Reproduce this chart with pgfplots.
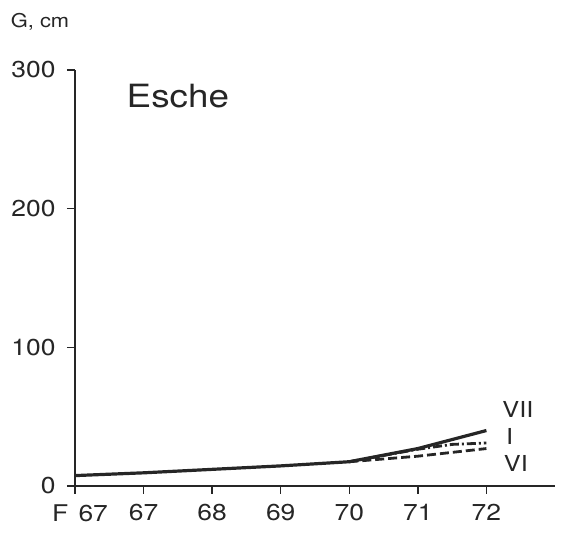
\documentclass[border=0pt]{standalone}
\usepackage{fontspec}
\setmainfont[FakeStretch=1.15]{TeX Gyre Heros}
\usepackage{pgfplots}
\pgfplotsset{compat=1.18}
\definecolor{ink}{HTML}{262626}
\begin{document}
\begin{tikzpicture}[x=1pt,y=1pt]
\path[use as bounding box] (-75,-48) rectangle (490,486);
\begin{axis}[
  at={(0,0)}, anchor=south west,
  scale only axis, width=480pt, height=416pt,
  xmin=0, xmax=7, ymin=0, ymax=300,
  axis lines*=left,
  axis line style={ink, line width=1.5pt},
  every tick/.style={ink, line width=1.5pt},
  tick align=outside, major tick length=8pt,
  xtick={0,1,2,3,4,5,6},
  xticklabels={\hspace*{10pt}F\hspace{0.45em}67,67,68,69,70,71,72},
  ytick={0,100,200,300},
  /pgf/number format/assume math mode=true,
  tick label style={font=\fontsize{23}{26}\selectfont, text=ink},
  xticklabel style={yshift=-7pt},
  yticklabel style={xshift=-8pt},
  clip=false,
]
\addplot[ink, line width=3.2pt] coordinates {(0,7.5)(1,9.5)(2,12)(3,14.5)(4,17.5)(5,27)(6,40)};
\addplot[ink, line width=2.8pt, dash pattern=on 9pt off 3pt on 2pt off 3pt] coordinates {(4,17.5)(5,26.5)(5.5,30)(6,31)};
\addplot[ink, line width=2.8pt, dash pattern=on 9pt off 4pt] coordinates {(4,17.5)(5,21.5)(6,27)};
\node[text=ink, font=\fontsize{22}{24}\selectfont] at (axis cs:6.46,55.5) {VII};
\node[text=ink, font=\fontsize{22}{24}\selectfont] at (axis cs:6.34,36) {I};
\node[text=ink, font=\fontsize{22}{24}\selectfont] at (axis cs:6.43,16) {VI};
\node[text=ink, font=\fontsize{32}{36}\selectfont] at (axis cs:1.50,281) {Esche};
\node[text=ink, font=\fontsize{19}{22}\selectfont] at (axis cs:-0.51,334.5) {G, cm};
\end{axis}
\end{tikzpicture}
\end{document}
